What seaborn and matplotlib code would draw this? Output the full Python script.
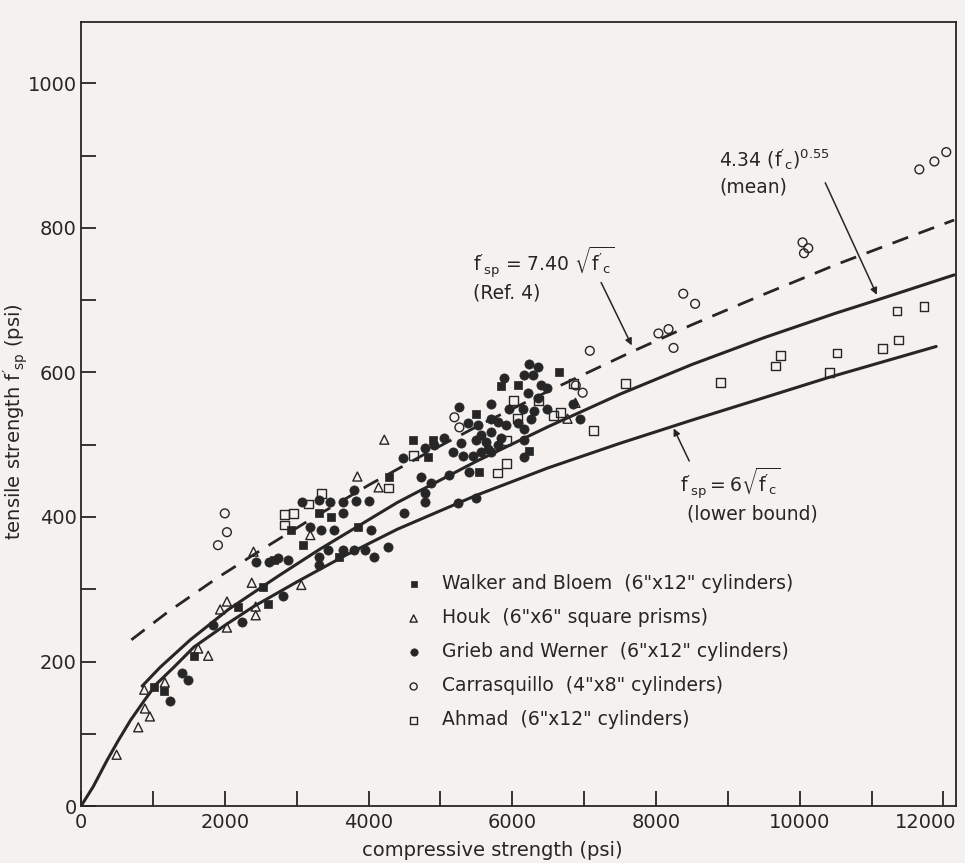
import numpy as np
import pandas as pd
import seaborn as sns
import matplotlib
matplotlib.use("Agg")
import matplotlib.pyplot as plt
from matplotlib.ticker import MultipleLocator

# ---- data (psi) ----
walker_x = [1010, 1160, 1565, 2605, 2190, 2535, 4290, 2925, 3315, 3480, 3855, 3090, 3590,
            2690, 6650, 6085, 5500, 4620, 4900, 4830, 5540, 6240, 5850]
walker_y = [165, 159, 207, 279, 276, 303, 455, 382, 405, 400, 386, 361, 345,
            341, 600, 582, 543, 506, 506, 483, 462, 492, 581]

houk_x = [495, 796, 889, 958, 880, 1166, 1630, 1769, 2030, 1935, 2030, 2375, 2430, 2430,
          3845, 4140, 2400, 3190, 3065, 4220, 6880, 6770]
houk_y = [71, 109, 135, 124, 161, 171, 218, 208, 247, 272, 283, 309, 276, 264,
          456, 441, 352, 375, 306, 507, 558, 536]

grieb_x = [1241, 1398, 1491, 1840, 2235, 3070, 3305, 3460, 3650, 3830, 4010, 3805, 3180,
           3345, 3525, 3650, 4040, 2745, 2885, 3305, 3440, 3650, 3805, 3945, 4080, 4275,
           3305, 2815, 2620, 2440, 6230, 6355, 6160, 6290, 5885, 6395, 6490, 6215, 6355,
           5705, 5955, 6150, 6300, 6490, 6840, 6950, 5265, 5390, 5530, 5705, 5800, 5915,
           6080, 6160, 6260, 5705, 5565, 5500, 5635, 5845, 5800, 5665, 5290, 5180, 5320,
           5460, 5565, 5705, 6160, 6160, 5055, 4780, 4915, 4485, 4735, 4875, 5125, 5400,
           4780, 4500, 4780, 5250, 5500]
grieb_y = [146, 184, 174, 250, 254, 421, 423, 421, 421, 422, 422, 437, 386,
           382, 382, 405, 382, 343, 341, 345, 354, 354, 354, 354, 345, 359,
           334, 290, 338, 338, 612, 607, 596, 596, 593, 582, 578, 571, 565,
           557, 550, 550, 547, 550, 557, 536, 552, 530, 527, 536, 531, 527,
           530, 522, 536, 517, 514, 506, 504, 510, 499, 494, 502, 490, 485,
           485, 490, 490, 506, 483, 510, 496, 499, 481, 455, 447, 458, 462,
           433, 405, 421, 419, 426]

carras_x = [2000, 2030, 1905, 5195, 5265, 6980, 6885, 7080, 8380, 8545, 8035, 8175, 8245,
            11665, 11875, 12040, 10040, 10060, 10120]
carras_y = [405, 379, 361, 538, 524, 572, 582, 630, 709, 695, 654, 660, 634,
            881, 892, 905, 780, 765, 772]

ahmad_x = [3345, 3165, 2830, 2830, 2960, 4275, 6020, 6370, 6575, 6675, 6075, 5915, 5915,
           5800, 4625, 6855, 7135, 11355, 11730, 11370, 11150, 10520, 9730, 9660, 10420,
           8900, 7580]
ahmad_y = [433, 418, 403, 389, 405, 440, 561, 561, 541, 545, 536, 506, 474,
           461, 485, 585, 520, 685, 691, 645, 633, 627, 623, 609, 600,
           586, 585]

# curves
ref4_x = [700, 1200, 1900, 2500, 3200, 4000, 4800, 5600, 6500, 7650, 8500, 9450,
          10500, 11400, 12150]
ref4_y = [230, 268, 316, 354, 397, 444, 488, 530, 574, 628, 666, 706,
          749, 783, 811]

mean_x = [850, 1100, 1520, 2050, 2740, 3300, 4400, 5500, 6500, 7500, 8500, 9500, 10500,
          11100, 12150]
mean_y = [166, 192, 230, 272, 318, 354, 420, 477, 525, 570, 611, 648, 682,
          701, 735]

lower_x = [0, 170, 360, 520, 690, 880, 1050, 1290, 1570, 2000, 2400, 3000, 3700, 4400,
           5500, 6500, 7500, 8500, 9500, 10400, 11900]
lower_y = [0, 27, 63, 91, 119, 146, 169, 192, 220, 250, 276, 310, 348, 383,
           430, 468, 502, 534, 565, 593, 636]

labels = ['Walker and Bloem  (6"x12" cylinders)',
          'Houk  (6"x6" square prisms)',
          'Grieb and Werner  (6"x12" cylinders)',
          'Carrasquillo  (4"x8" cylinders)',
          'Ahmad  (6"x12" cylinders)']

# ---- style ----
sns.set_style("ticks")
plt.rcParams['font.family'] = ['DejaVu Sans']
plt.rcParams['mathtext.default'] = 'regular'
ink = '#262626'
bg = '#f4f1ef'

fig = plt.figure(figsize=(9.65, 8.63), dpi=100, facecolor=bg)
ax = fig.add_axes([0.084, 0.066, 0.907, 0.9085])
ax.set_facecolor(bg)

# curves
sns.lineplot(x=ref4_x, y=ref4_y, color=ink, lw=2.0, ax=ax, sort=False, estimator=None,
             linestyle=(0, (6, 4)))
sns.lineplot(x=mean_x, y=mean_y, color=ink, lw=2.2, ax=ax, sort=False, estimator=None)
sns.lineplot(x=lower_x, y=lower_y, color=ink, lw=2.2, ax=ax, sort=False, estimator=None)

# data points
sns.scatterplot(x=walker_x, y=walker_y, marker='s', s=36, color=ink, edgecolor=ink,
                linewidth=0.5, ax=ax, label=labels[0])
sns.scatterplot(x=houk_x, y=houk_y, marker='^', s=42, facecolor='none', edgecolor=ink,
                linewidth=1.0, ax=ax, label=labels[1])
sns.scatterplot(x=grieb_x, y=grieb_y, marker='o', s=44, color=ink, edgecolor=ink,
                linewidth=0.5, ax=ax, label=labels[2])
sns.scatterplot(x=carras_x, y=carras_y, marker='o', s=40, facecolor='none', edgecolor=ink,
                linewidth=1.0, ax=ax, label=labels[3])
sns.scatterplot(x=ahmad_x, y=ahmad_y, marker='s', s=40, facecolor='none', edgecolor=ink,
                linewidth=1.0, ax=ax, label=labels[4])

# annotations
fs = 13.5
ax.text(5450, 752, r"$f'_{sp}$ = 7.40 $\sqrt{f'_c}$", fontsize=fs, color=ink, va='center')
ax.text(5450, 710, "(Ref. 4)", fontsize=fs, color=ink, va='center')
ax.annotate("", xy=(7680, 634), xytext=(7220, 728),
            arrowprops=dict(arrowstyle='-|>', color=ink, lw=1.1))
ax.text(8880, 895, r"4.34 $(f'_c)^{0.55}$", fontsize=fs, color=ink, va='center')
ax.text(8880, 857, "(mean)", fontsize=fs, color=ink, va='center')
ax.annotate("", xy=(11090, 704), xytext=(10340, 866),
            arrowprops=dict(arrowstyle='-|>', color=ink, lw=1.1))
ax.text(8330, 447, r"$f'_{sp}=6\sqrt{f'_c}$", fontsize=fs, color=ink, va='center')
ax.text(8430, 404, "(lower bound)", fontsize=fs, color=ink, va='center')
ax.annotate("", xy=(8230, 526), xytext=(8480, 474),
            arrowprops=dict(arrowstyle='-|>', color=ink, lw=1.1))

# axes
ax.set_xlim(0, 12180)
ax.set_ylim(0, 1085)
ax.xaxis.set_major_locator(MultipleLocator(2000))
ax.xaxis.set_minor_locator(MultipleLocator(1000))
ax.yaxis.set_major_locator(MultipleLocator(200))
ax.yaxis.set_minor_locator(MultipleLocator(100))
ax.tick_params(which='both', direction='in', length=11, width=1.3, color=ink,
               labelsize=14, labelcolor=ink)
ax.tick_params(axis='y', pad=3)
ax.tick_params(axis='x', pad=5)
for sp in ax.spines.values():
    sp.set_visible(True)
    sp.set_color(ink)
    sp.set_linewidth(1.3)

fig.canvas.draw()
xt = ax.get_xticklabels()
xt[-1].set_horizontalalignment('right')
xt[-1].set_x(12000)
for lab in ax.get_xticklabels():
    if lab.get_text() == '12000':
        lab.set_horizontalalignment('center')
        lab.set_transform(lab.get_transform() + matplotlib.transforms.ScaledTranslation(
            -0.18, 0, fig.dpi_scale_trans))

ax.set_xlabel("compressive strength (psi)", fontsize=14, color=ink)
ax.set_ylabel(r"tensile strength $f'_{sp}$ (psi)", fontsize=14, color=ink)
ax.xaxis.set_label_coords(0.47, -0.045)
ax.yaxis.set_label_coords(-0.058, 0.49)

leg = ax.legend(loc='upper left', bbox_to_anchor=(0.35, 0.305), frameon=False,
                fontsize=13.5, labelspacing=0.8, handletextpad=0.5, markerscale=0.8,
                borderaxespad=0)
for t in leg.get_texts():
    t.set_color(ink)

fig.savefig("out.png", dpi=100, facecolor=bg)
